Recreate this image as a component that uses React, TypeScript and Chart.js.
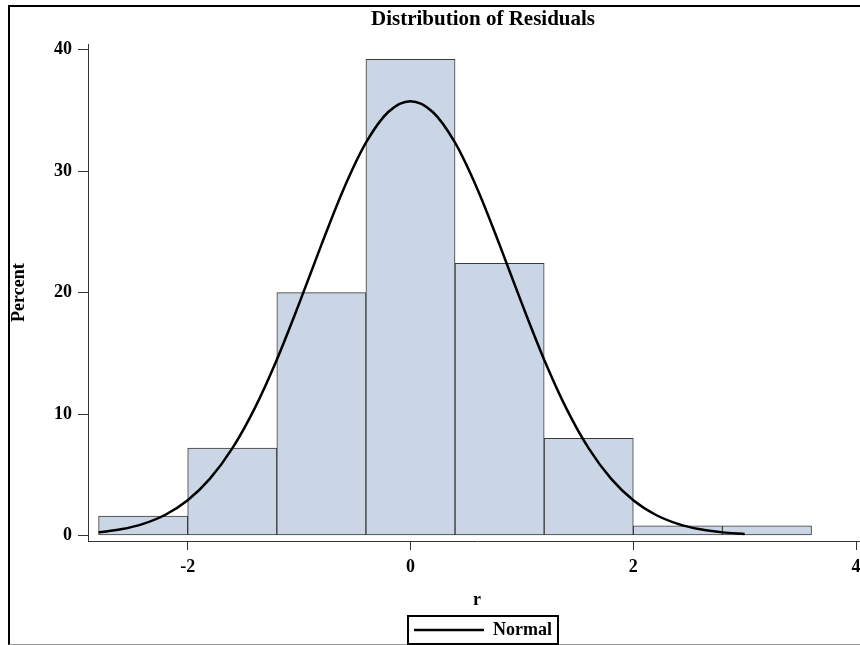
import React, { useEffect, useRef } from "react";
import { Chart, registerables } from "chart.js";

Chart.register(...registerables);

// Histogram bins (midpoints, bin width 0.8) and percents
const binCenters = [-2.4, -1.6, -0.8, 0, 0.8, 1.6, 2.4, 3.2];
const binPercents = [1.6, 7.2, 20.0, 39.2, 22.4, 8.0, 0.8, 0.8];

// Normal density curve (percent scale)
const normalX = [
  -2.8, -2.6, -2.4, -2.2, -2.0, -1.8, -1.6, -1.4, -1.2, -1.0, -0.8, -0.6, -0.4, -0.2,
  0, 0.2, 0.4, 0.6, 0.8, 1.0, 1.2, 1.4, 1.6, 1.8, 2.0, 2.2, 2.4, 2.6, 2.8, 3.0,
];
const normalY = [
  0.26, 0.51, 0.96, 1.71, 2.9, 4.68, 7.17, 10.45, 14.48, 19.09, 23.93, 28.53, 32.34, 34.87,
  35.76, 34.87, 32.34, 28.53, 23.93, 19.09, 14.48, 10.45, 7.17, 4.68, 2.9, 1.71, 0.96, 0.51, 0.26, 0.13,
];

const xTicks = [-2, 0, 2, 4];
const yTicks = [0, 10, 20, 30, 40];

const chartTitle = "Distribution of Residuals";
const xTitle = "r";
const yTitle = "Percent";
const seriesName = "Normal";

const FONT = "'Liberation Serif', 'Times New Roman', serif";

const legendFrame = {
  id: "legendFrame",
  afterDraw(chart: any) {
    const hb = chart.legend && chart.legend.legendHitBoxes && chart.legend.legendHitBoxes[0];
    if (!hb) return;
    const ctx = chart.ctx;
    ctx.save();
    ctx.lineWidth = 2;
    ctx.strokeStyle = "#000";
    ctx.strokeRect(hb.left - 6, hb.top - 5, hb.width + 12, hb.height + 10);
    ctx.restore();
  },
};

export default function App() {
  const ref = useRef<HTMLCanvasElement>(null);

  useEffect(() => {
    if (!ref.current) return;
    const chart = new Chart(ref.current, {
      type: "bar",
      data: {
        datasets: [
          {
            type: "bar",
            label: "Histogram",
            data: binCenters.map((x, i) => ({ x, y: binPercents[i] })),
            backgroundColor: "#CAD5E5",
            borderColor: "#3a3a3a",
            borderWidth: 1,
            borderSkipped: false,
            barPercentage: 1,
            categoryPercentage: 1,
            grouped: false,
            order: 2,
          } as any,
          {
            type: "line",
            label: seriesName,
            data: normalX.map((x, i) => ({ x, y: normalY[i] })),
            borderColor: "#000",
            backgroundColor: "#000",
            borderWidth: 2.5,
            pointRadius: 0,
            pointStyle: "line",
            fill: false,
            cubicInterpolationMode: "monotone",
            order: 1,
          } as any,
        ],
      },
      options: {
        animation: false,
        responsive: false,
        events: [],
        layout: { padding: { left: 0, right: 0, top: 0, bottom: 1 } },
        scales: {
          x: {
            type: "linear",
            position: "bottom",
            offset: false,
            min: -2.895,
            max: 4.089,
            afterBuildTicks: (s: any) => {
              s.ticks = xTicks.map((value) => ({ value }));
            },
            afterFit: (s: any) => {
              s.height = 73;
            },
            grid: {
              display: true,
              offset: false,
              drawOnChartArea: false,
              drawTicks: true,
              tickLength: 9,
              color: "#333",
            },
            border: { display: true, color: "#333", width: 1 },
            ticks: {
              color: "#000",
              padding: 7,
              font: { family: FONT, size: 18, weight: "bold" },
              callback: (v: any) => String(v),
            },
            title: {
              display: true,
              text: xTitle,
              color: "#000",
              font: { family: FONT, size: 18, weight: "bold" },
              padding: { top: 3, bottom: 3 },
            },
          },
          y: {
            type: "linear",
            position: "left",
            min: -0.45,
            max: 40.45,
            afterBuildTicks: (s: any) => {
              s.ticks = yTicks.map((value) => ({ value }));
            },
            afterFit: (s: any) => {
              s.width = 88;
            },
            grid: {
              display: true,
              drawOnChartArea: false,
              drawTicks: true,
              tickLength: 10,
              color: "#333",
            },
            border: { display: true, color: "#333", width: 1 },
            ticks: {
              color: "#000",
              padding: 6,
              font: { family: FONT, size: 18, weight: "bold" },
              callback: (v: any) => String(v),
            },
            title: {
              display: true,
              text: yTitle,
              color: "#000",
              font: { family: FONT, size: 18, weight: "bold" },
              padding: { top: 9, bottom: 9 },
            },
          },
          yr: {
            type: "linear",
            position: "right",
            display: true,
            afterFit: (s: any) => {
              s.width = 100;
            },
            grid: { display: false },
            border: { display: false },
            ticks: { display: false },
          },
        },
        plugins: {
          title: {
            display: true,
            text: chartTitle,
            color: "#000",
            font: { family: FONT, size: 21, weight: "bold" },
            padding: { top: 7, bottom: 12 },
          },
          legend: {
            display: true,
            position: "bottom",
            labels: {
              color: "#000",
              font: { family: FONT, size: 18, weight: "bold" },
              usePointStyle: true,
              pointStyle: "line",
              pointStyleWidth: 70,
              padding: 7,
              filter: (item: any) => item.datasetIndex === 1,
            },
          },
          tooltip: { enabled: false },
        },
      },
      plugins: [legendFrame],
    } as any);
    return () => chart.destroy();
  }, []);

  return (
    <div style={{ position: "fixed", inset: 0, overflow: "hidden", background: "#fff" }}>
      <div
        style={{
          position: "absolute",
          left: 8,
          top: 5,
          width: 1000,
          height: 640,
          boxSizing: "border-box",
          borderTop: "2px solid #000",
          borderLeft: "2px solid #000",
          borderBottom: "1px solid #999",
        }}
      />
      <canvas
        ref={ref}
        width={966}
        height={650}
        style={{ position: "absolute", left: 0, top: 0, width: 966, height: 650 }}
      />
    </div>
  );
}
